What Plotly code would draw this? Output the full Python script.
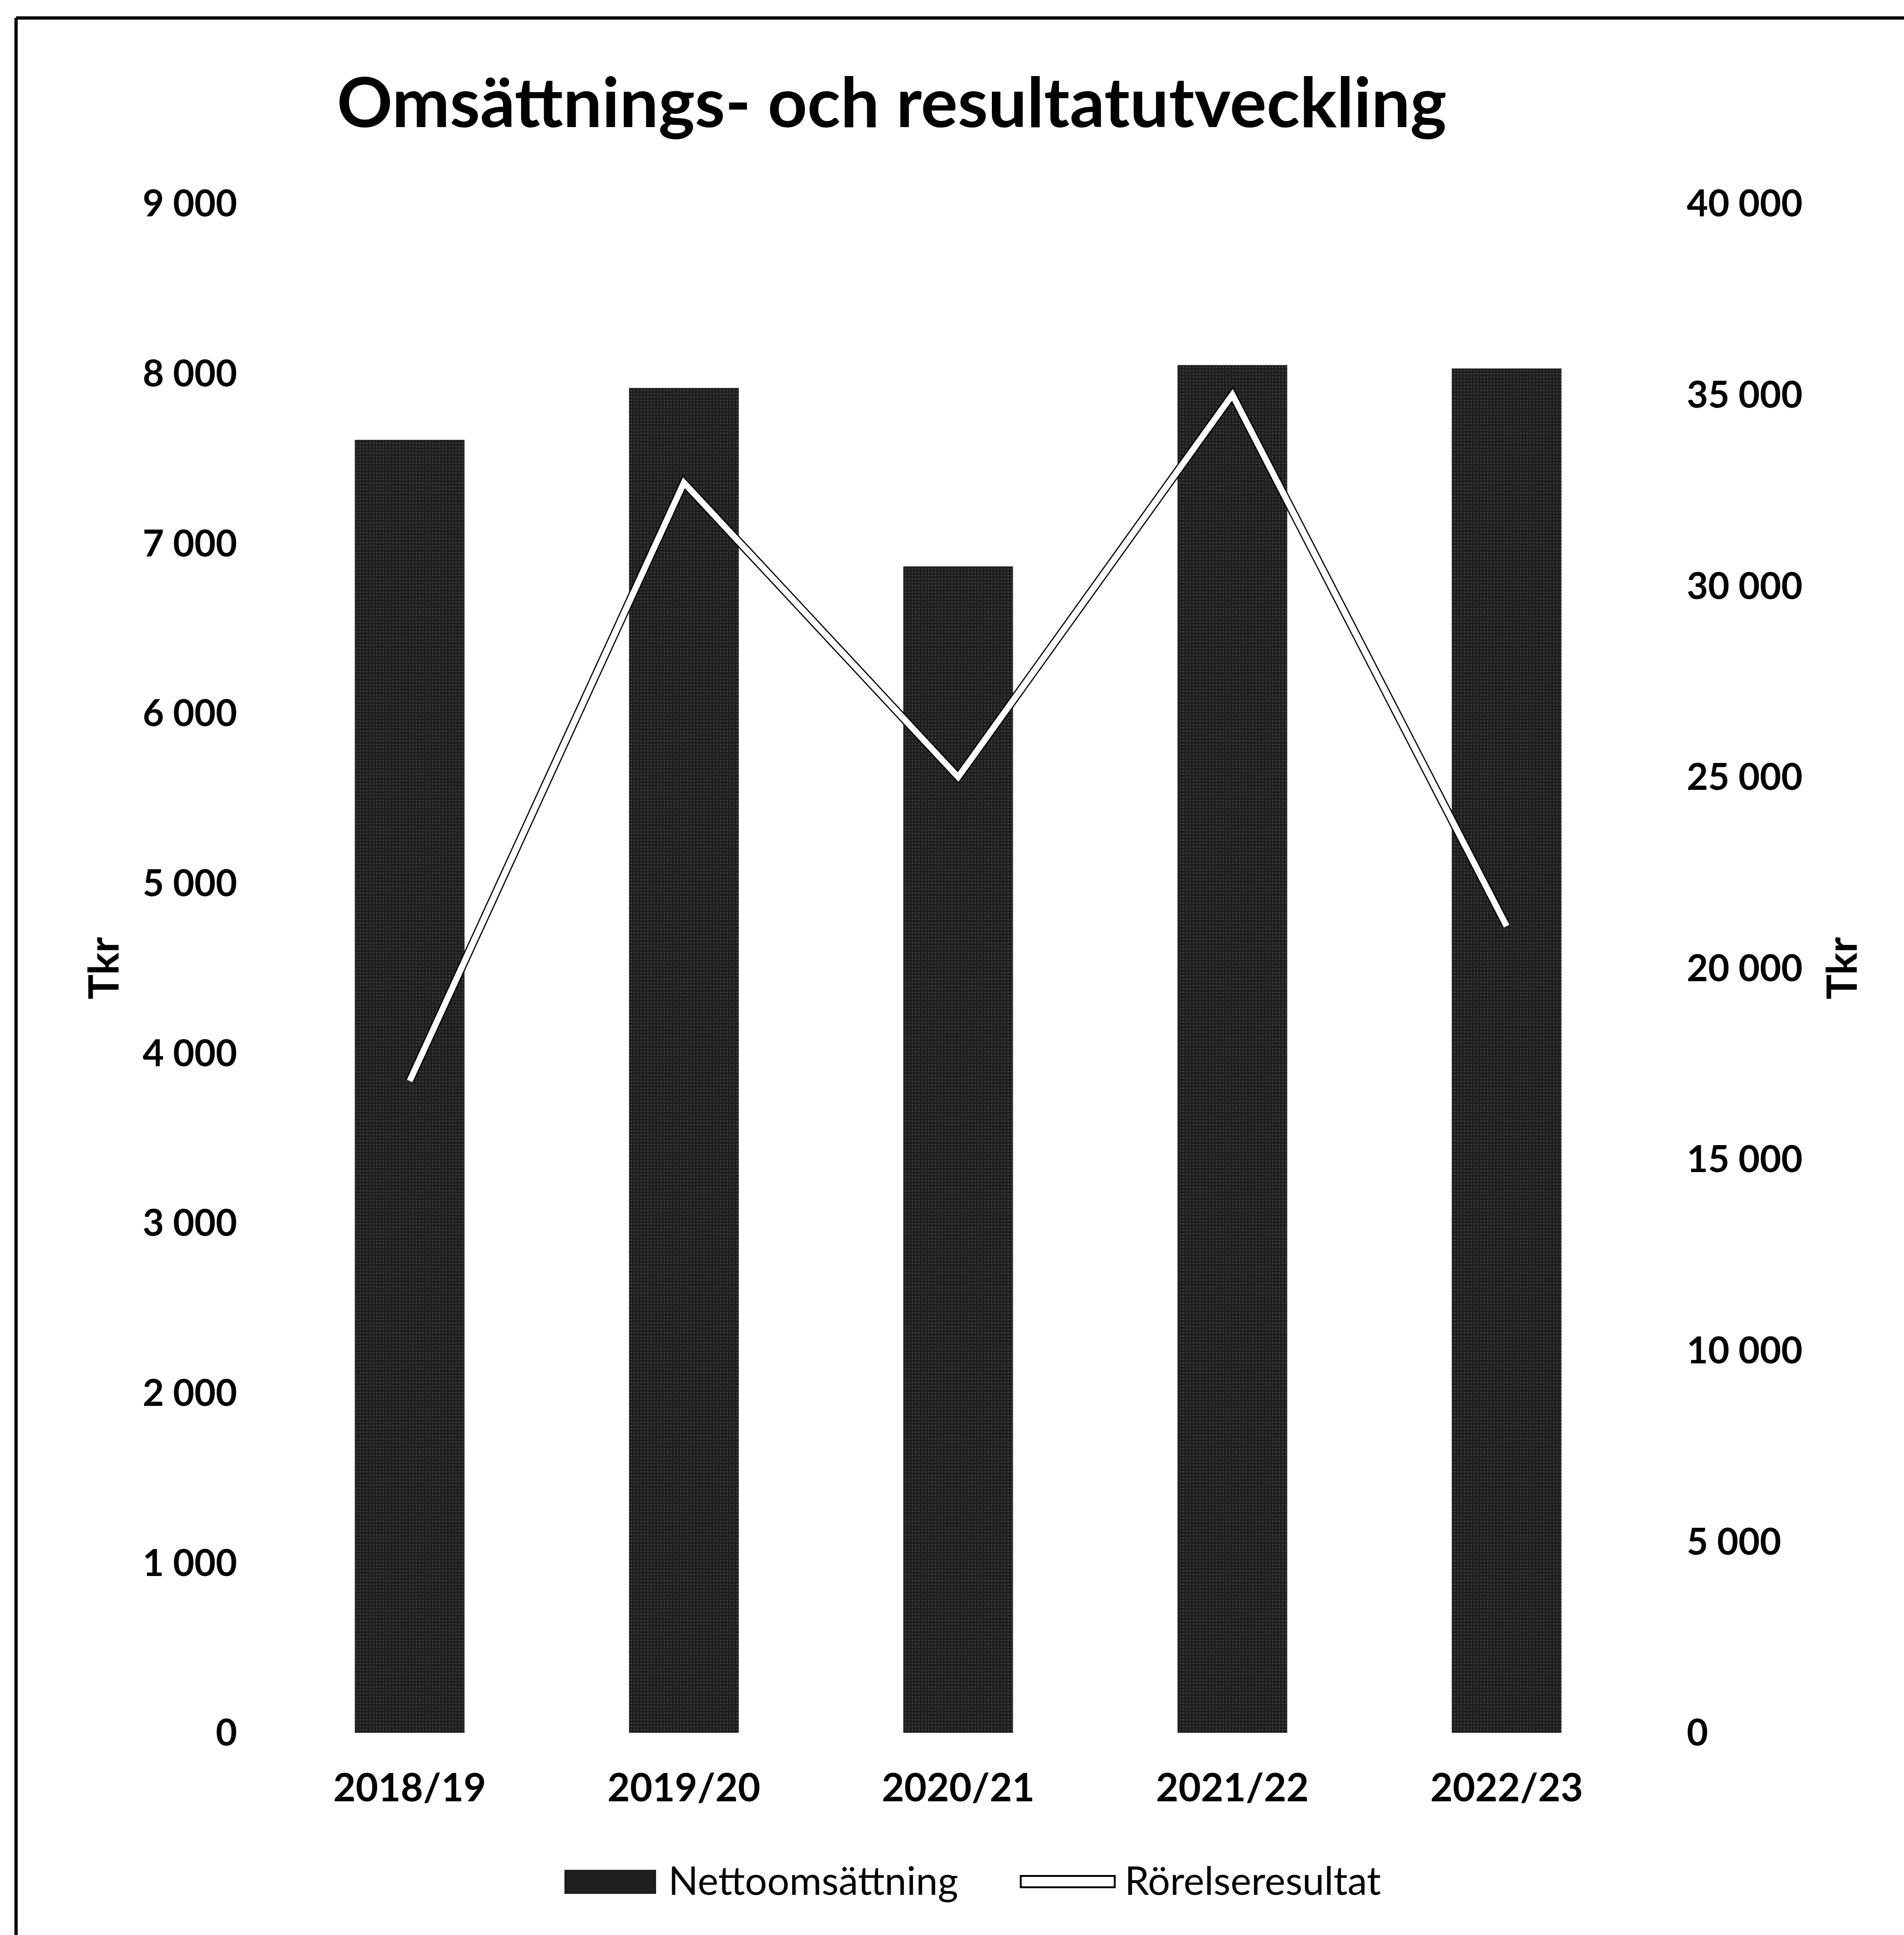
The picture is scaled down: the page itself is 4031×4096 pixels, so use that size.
import plotly.graph_objects as go

# ---------------- data ----------------
categories = ["2018/19", "2019/20", "2020/21", "2021/22", "2022/23"]
nettoomsattning = [7610, 7915, 6865, 8050, 8030]          # Tkr, left axis
rorelseresultat = [17050, 32700, 25000, 35000, 21100]     # Tkr, right axis

left_tickvals = [0, 1000, 2000, 3000, 4000, 5000, 6000, 7000, 8000, 9000]
left_ticktext = ["0", "1 000", "2 000", "3 000", "4 000", "5 000",
                 "6 000", "7 000", "8 000", "9 000"]
right_tickvals = [0, 5000, 10000, 15000, 20000, 25000, 30000, 35000, 40000]
right_ticktext = ["0", "5 000", "10 000", "15 000", "20 000", "25 000",
                  "30 000", "35 000", "40 000"]

title_text = "Omsättnings- och resultatutveckling"
series_names = ["Nettoomsättning", "Rörelseresultat"]
axis_title = "Tkr"

# ---------------- geometry (output pixels) ----------------
W, H = 4031, 4096
L, R, T, B = 577, 551, 431, 428
PW, PH = W - L - R, H - T - B


def px(x):
    return (x - L) / PW


def py(y):
    return (H - B - y) / PH


FONT = "Lato"
BAR_COLOR = "#1e1e1e"

fig = go.Figure()
fig.add_trace(go.Bar(
    x=categories, y=nettoomsattning, name=series_names[0], yaxis="y",
    marker=dict(color=BAR_COLOR, line=dict(width=0),
                pattern=dict(shape=".", fillmode="overlay", fgcolor="#6a6a6a",
                             size=7, solidity=0.18)),
    showlegend=False,
))
# dark outline of the white line
fig.add_trace(go.Scatter(
    x=categories, y=rorelseresultat, yaxis="y2", mode="lines",
    line=dict(color="#000000", width=18), showlegend=False, hoverinfo="skip",
))
fig.add_trace(go.Scatter(
    x=categories, y=rorelseresultat, yaxis="y2", mode="lines",
    name=series_names[1], line=dict(color="#ffffff", width=13),
    showlegend=False,
))

shapes = [
    # chart frame (top and left edges visible)
    dict(type="line", xref="paper", yref="paper", x0=px(34), x1=px(W + 20),
         y0=py(38), y1=py(38), line=dict(color="black", width=7)),
    dict(type="line", xref="paper", yref="paper", x0=px(34), x1=px(34),
         y0=py(38), y1=py(H + 20), line=dict(color="black", width=7)),
    # legend symbols
    dict(type="rect", xref="paper", yref="paper", x0=px(1195), x1=px(1389),
         y0=py(3958), y1=py(4009), fillcolor=BAR_COLOR, line=dict(width=0)),
    dict(type="rect", xref="paper", yref="paper", x0=px(2161), x1=px(2360),
         y0=py(3971), y1=py(3995), fillcolor="white",
         line=dict(color="black", width=4)),
]

annotations = [
    dict(text=series_names[0], xref="paper", yref="paper", x=px(1413), y=py(3979),
         xanchor="left", yanchor="middle", showarrow=False,
         font=dict(family=FONT, size=83, color="black")),
    dict(text=series_names[1], xref="paper", yref="paper", x=px(2379), y=py(3979),
         xanchor="left", yanchor="middle", showarrow=False,
         font=dict(family=FONT, size=83, color="black")),
    dict(text=axis_title, xref="paper", yref="paper", x=px(216), y=0.5,
         xanchor="center", yanchor="middle", textangle=-90, showarrow=False,
         font=dict(family=FONT, size=88, color="black", weight="bold")),
    dict(text=axis_title, xref="paper", yref="paper", x=px(3896), y=0.5,
         xanchor="center", yanchor="middle", textangle=-90, showarrow=False,
         font=dict(family=FONT, size=88, color="black", weight="bold")),
]

fig.update_layout(
    width=W, height=H,
    margin=dict(l=L, r=R, t=T, b=B, autoexpand=False),
    paper_bgcolor="white", plot_bgcolor="white",
    bargap=0.6, showlegend=False,
    font=dict(family=FONT, color="black"),
    title=dict(text=title_text, xref="container", yref="container",
               x=1888 / W, xanchor="center", y=1 - 218 / H, yanchor="middle",
               font=dict(family=FONT, size=146, color="black", weight="bold")),
    xaxis=dict(type="category", showgrid=False, zeroline=False, showline=False,
               ticks="", ticklabelstandoff=62,
               tickfont=dict(family=FONT, size=82, color="black", weight="bold")),
    yaxis=dict(range=[0, 9000], tickvals=left_tickvals, ticktext=left_ticktext,
               showgrid=False, zeroline=False, showline=False, ticks="",
               ticklabelstandoff=74,
               tickfont=dict(family=FONT, size=78, color="black", weight="bold")),
    yaxis2=dict(range=[0, 40000], tickvals=right_tickvals, ticktext=right_ticktext,
                overlaying="y", side="right", showgrid=False, zeroline=False,
                showline=False, ticks="", ticklabelstandoff=90,
                tickfont=dict(family=FONT, size=78, color="black", weight="bold")),
    shapes=shapes, annotations=annotations,
)

fig.write_html("out.html", config={"displayModeBar": False},
               post_script="document.body.style.margin='0';document.body.style.overflow='hidden';")
